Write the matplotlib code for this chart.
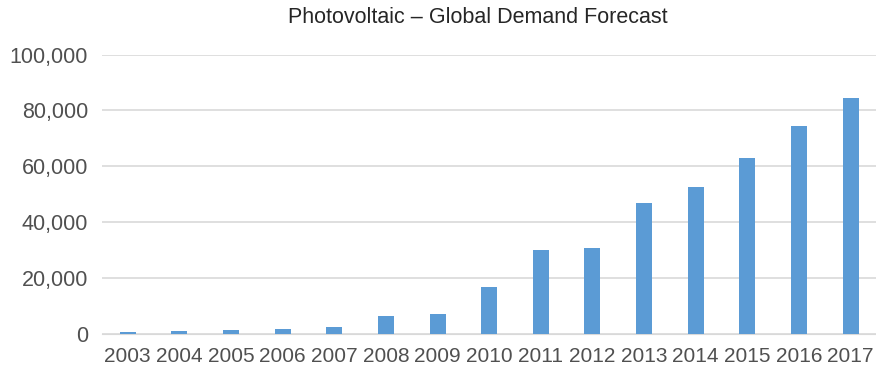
import matplotlib
matplotlib.use("Agg")
import matplotlib.pyplot as plt
from matplotlib.ticker import FuncFormatter

years = ["2003", "2004", "2005", "2006", "2007", "2008", "2009", "2010",
         "2011", "2012", "2013", "2014", "2015", "2016", "2017"]
demand = [700, 1100, 1400, 1500, 2200, 6300, 7200, 16700,
          30100, 30800, 46900, 52600, 62800, 74500, 84500]

plt.rcParams['font.family'] = ['Liberation Sans', 'DejaVu Sans']

fig = plt.figure(figsize=(8.76, 3.74), dpi=100)
ax = fig.add_axes([0.1164, 0.108, 0.884, 0.746])

x = range(len(years))
ax.bar(x, demand, width=0.31, color='#5b9bd5', zorder=3)

ax.set_xlim(-0.5, len(years) - 0.5)
ax.set_ylim(0, 100000)
ax.set_yticks(range(0, 100001, 20000))
ax.yaxis.set_major_formatter(FuncFormatter(lambda v, p: f"{int(v):,}"))
ax.set_xticks(list(x))
ax.set_xticklabels(years)

ax.grid(axis='y', color='#d9d9d9', linewidth=1.2, zorder=0)
for s in ['top', 'right', 'left']:
    ax.spines[s].set_visible(False)
ax.spines['bottom'].set_color('#d9d9d9')
ax.tick_params(axis='both', length=0, colors='#505050')
ax.tick_params(axis='y', pad=10, labelsize=15.5)
ax.tick_params(axis='x', pad=10, labelsize=15)

fig.text(0.545, 0.952, 'Photovoltaic – Global Demand Forecast',
         ha='center', va='center', fontsize=15.5, color='#262626')

fig.savefig('out.png', dpi=100)
